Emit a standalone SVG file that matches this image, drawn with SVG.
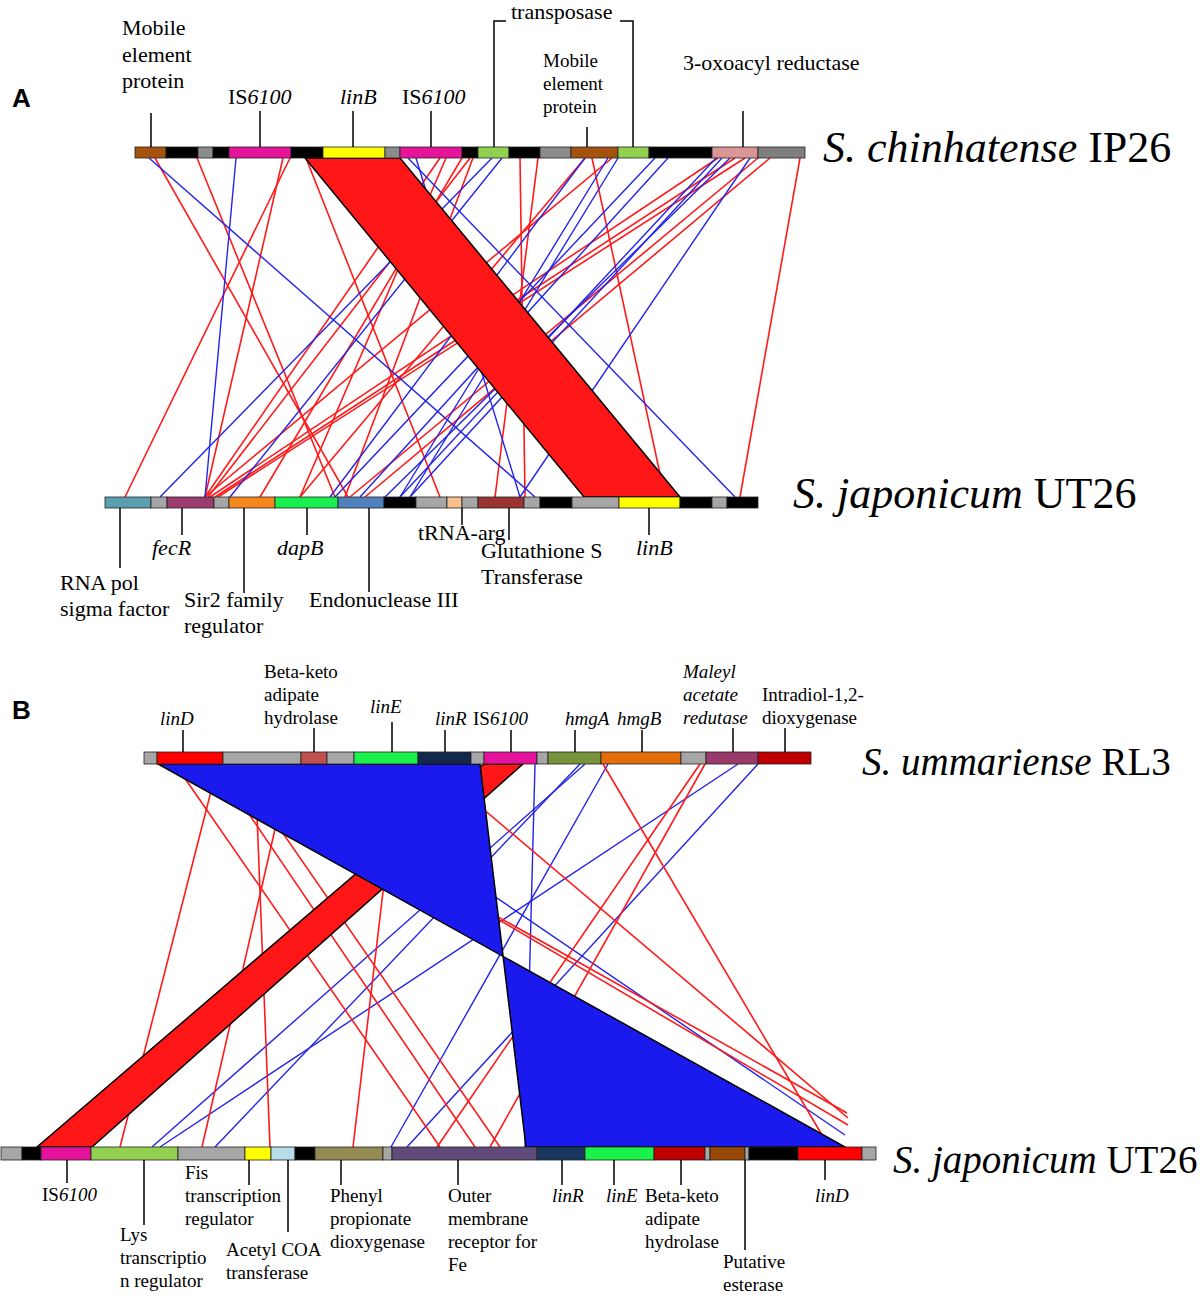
<svg xmlns="http://www.w3.org/2000/svg" width="1200" height="1296" viewBox="0 0 1200 1296">
<style>
.r{stroke:#ff1a1a;fill:none;stroke-width:1.6}
.b{stroke:#2424e8;fill:none;stroke-width:1.4}
.seg rect{stroke:#222;stroke-width:0.8}
.tk{stroke:#000;stroke-width:1.5;fill:none}
text{font-family:"Liberation Serif","Times New Roman",serif;fill:#000}
.a{font-size:22px}
.s{font-size:19px}
.i{font-style:italic}
.sp1{font-size:44px}
.sp2{font-size:39px}
.lab{font-family:"Liberation Sans",Arial,sans-serif;font-weight:bold;font-size:26px}
</style>
<rect width="1200" height="1296" fill="#fff"/>

<g id="connectors">
<g id="linesA">
<line class="r" x1="155" y1="158" x2="348" y2="497" stroke-width="2"/>
<line class="r" x1="197" y1="158" x2="335" y2="497" stroke-width="2"/>
<line class="r" x1="290" y1="158" x2="125" y2="497" stroke-width="2"/>
<line class="r" x1="283" y1="158" x2="205" y2="497"/>
<line class="r" x1="306" y1="158" x2="440" y2="497" stroke-width="2"/>
<line class="r" x1="440" y1="158" x2="205" y2="497" stroke-width="1"/>
<line class="r" x1="446" y1="158" x2="300" y2="497" stroke-width="2"/>
<line class="r" x1="462" y1="158" x2="260" y2="497" stroke-width="2"/>
<line class="r" x1="470" y1="158" x2="208" y2="497" stroke-width="1"/>
<line class="r" x1="473" y1="158" x2="345" y2="497"/>
<line class="r" x1="520" y1="158" x2="525" y2="497" stroke-width="2"/>
<line class="r" x1="538" y1="158" x2="495" y2="497"/>
<line class="r" x1="585" y1="158" x2="300" y2="497" stroke-width="2"/>
<line class="r" x1="592" y1="158" x2="665" y2="497" stroke-width="2"/>
<line class="r" x1="612" y1="158" x2="205" y2="497" stroke-width="1"/>
<line class="r" x1="718" y1="158" x2="210" y2="497" stroke-width="1"/>
<line class="r" x1="735" y1="158" x2="215" y2="497" stroke-width="1"/>
<line class="r" x1="745" y1="158" x2="218" y2="497" stroke-width="1"/>
<line class="r" x1="758" y1="158" x2="350" y2="497" stroke-width="1"/>
<line class="r" x1="770" y1="158" x2="365" y2="497" stroke-width="1"/>
<line class="r" x1="800" y1="158" x2="740" y2="497" stroke-width="3"/>
<line class="b" x1="149" y1="158" x2="535" y2="497"/>
<line class="b" x1="236" y1="158" x2="205" y2="497"/>
<line class="b" x1="408" y1="158" x2="735" y2="497"/>
<line class="b" x1="416" y1="158" x2="520" y2="497"/>
<line class="b" x1="492" y1="158" x2="160" y2="497"/>
<line class="b" x1="502" y1="158" x2="230" y2="497"/>
<line class="b" x1="585" y1="158" x2="330" y2="497"/>
<line class="b" x1="608" y1="158" x2="400" y2="497" stroke-width="2"/>
<line class="b" x1="618" y1="158" x2="410" y2="497"/>
<line class="b" x1="655" y1="158" x2="335" y2="497"/>
<line class="b" x1="668" y1="158" x2="360" y2="497"/>
<line class="b" x1="716" y1="158" x2="400" y2="497" stroke-width="2.5"/>
<line class="b" x1="722" y1="158" x2="410" y2="497"/>
<line class="b" x1="730" y1="158" x2="385" y2="497" stroke-width="1"/>
<line class="b" x1="750" y1="158" x2="520" y2="497"/>
</g>
<polygon id="bandA" points="305,158 400,158 680,497 584,497" fill="#ff1616" stroke="#000" stroke-width="1.5"/>

<g id="linesB">
<line class="b" x1="535" y1="764" x2="525" y2="1147"/>
<line class="b" x1="580" y1="764" x2="215" y2="1147"/>
<line class="b" x1="585" y1="764" x2="152" y2="1147"/>
<line class="b" x1="608" y1="764" x2="391" y2="1147"/>
<line class="b" x1="738" y1="764" x2="160" y2="1147" stroke-width="1"/>
<line class="b" x1="758" y1="764" x2="407" y2="1147"/>
<line class="b" x1="300" y1="764" x2="845" y2="1135" stroke-width="1"/>
<line class="r" x1="255" y1="764" x2="270" y2="1147" stroke-width="2.5"/>
<line class="r" x1="218" y1="764" x2="120" y2="1147" stroke-width="2"/>
<line class="r" x1="175" y1="764" x2="440" y2="1147"/>
<line class="r" x1="215" y1="764" x2="475" y2="1147"/>
<line class="r" x1="235" y1="764" x2="500" y2="1147" stroke-width="1"/>
<line class="r" x1="290" y1="764" x2="202" y2="1147"/>
<line class="r" x1="398" y1="764" x2="353" y2="1147" stroke-width="2"/>
<line class="r" x1="226" y1="764" x2="847" y2="1113" stroke-width="1"/>
<line class="r" x1="234" y1="764" x2="848" y2="1125" stroke-width="1"/>
<line class="r" x1="430" y1="764" x2="848" y2="1118" stroke-width="1"/>
<line class="r" x1="603" y1="764" x2="822" y2="1135" stroke-width="2"/>
<line class="r" x1="705" y1="764" x2="490" y2="1147" stroke-width="2"/>
<line class="r" x1="700" y1="764" x2="437" y2="1147"/>
</g>
<polygon id="bandBred" points="484,764 523,764 92,1147 37,1147" fill="#ff1616" stroke="#000" stroke-width="1.5"/>
<polygon id="bandBblue" points="158,764 480,764 526,1147 845,1147" fill="#1a1aee" stroke="#000" stroke-width="1.5"/>
</g>

<g id="barA1" class="seg">
<rect x="135" y="147" width="31" height="11" fill="#a5520f"/>
<rect x="166" y="147" width="32" height="11" fill="#000"/>
<rect x="198" y="147" width="15" height="11" fill="#8c8c8c"/>
<rect x="213" y="147" width="16" height="11" fill="#000"/>
<rect x="229" y="147" width="62" height="11" fill="#e6149b"/>
<rect x="291" y="147" width="32" height="11" fill="#000"/>
<rect x="323" y="147" width="62" height="11" fill="#ffff00"/>
<rect x="385" y="147" width="15" height="11" fill="#8c8c8c"/>
<rect x="400" y="147" width="62" height="11" fill="#e6149b"/>
<rect x="462" y="147" width="16" height="11" fill="#000"/>
<rect x="478" y="147" width="31" height="11" fill="#92d050"/>
<rect x="509" y="147" width="31" height="11" fill="#000"/>
<rect x="540" y="147" width="31" height="11" fill="#8c8c8c"/>
<rect x="571" y="147" width="47" height="11" fill="#a5520f"/>
<rect x="618" y="147" width="31" height="11" fill="#92d050"/>
<rect x="649" y="147" width="63" height="11" fill="#000"/>
<rect x="712" y="147" width="46" height="11" fill="#d99694"/>
<rect x="758" y="147" width="47" height="11" fill="#7f7f7f"/>
</g>

<g id="barA2" class="seg">
<rect x="105" y="497" width="46" height="11" fill="#5b9eae"/>
<rect x="151" y="497" width="16" height="11" fill="#a6a6a6"/>
<rect x="167" y="497" width="47" height="11" fill="#9b3b6e"/>
<rect x="214" y="497" width="15" height="11" fill="#a6a6a6"/>
<rect x="229" y="497" width="46" height="11" fill="#f7861d"/>
<rect x="275" y="497" width="63" height="11" fill="#19f050"/>
<rect x="338" y="497" width="46" height="11" fill="#4f81bd"/>
<rect x="384" y="497" width="32" height="11" fill="#000"/>
<rect x="416" y="497" width="31" height="11" fill="#a6a6a6"/>
<rect x="447" y="497" width="15" height="11" fill="#fac090"/>
<rect x="462" y="497" width="16" height="11" fill="#a6a6a6"/>
<rect x="478" y="497" width="46" height="11" fill="#9b3333"/>
<rect x="524" y="497" width="16" height="11" fill="#a6a6a6"/>
<rect x="540" y="497" width="32" height="11" fill="#000"/>
<rect x="572" y="497" width="47" height="11" fill="#a6a6a6"/>
<rect x="619" y="497" width="61" height="11" fill="#ffff00"/>
<rect x="680" y="497" width="32" height="11" fill="#000"/>
<rect x="712" y="497" width="15" height="11" fill="#a6a6a6"/>
<rect x="727" y="497" width="31" height="11" fill="#000"/>
</g>

<g id="barB1" class="seg">
<rect x="144" y="752" width="13" height="12" fill="#a6a6a6"/>
<rect x="157" y="752" width="66" height="12" fill="#ff0000"/>
<rect x="223" y="752" width="78" height="12" fill="#a6a6a6"/>
<rect x="301" y="752" width="26" height="12" fill="#c0504d"/>
<rect x="327" y="752" width="27" height="12" fill="#a6a6a6"/>
<rect x="354" y="752" width="64" height="12" fill="#1af14b"/>
<rect x="418" y="752" width="53" height="12" fill="#13294b"/>
<rect x="471" y="752" width="13" height="12" fill="#a6a6a6"/>
<rect x="484" y="752" width="53" height="12" fill="#e3119b"/>
<rect x="537" y="752" width="11" height="12" fill="#a6a6a6"/>
<rect x="548" y="752" width="53" height="12" fill="#77933c"/>
<rect x="601" y="752" width="80" height="12" fill="#e46c0a"/>
<rect x="681" y="752" width="25" height="12" fill="#a6a6a6"/>
<rect x="706" y="752" width="52" height="12" fill="#9a3a6a"/>
<rect x="758" y="752" width="53" height="12" fill="#c00000"/>
</g>

<g id="barB2" class="seg">
<rect x="1" y="1147" width="21" height="13" fill="#a6a6a6"/>
<rect x="22" y="1147" width="19" height="13" fill="#000"/>
<rect x="41" y="1147" width="50" height="13" fill="#e3119b"/>
<rect x="91" y="1147" width="87" height="13" fill="#92d050"/>
<rect x="178" y="1147" width="67" height="13" fill="#a6a6a6"/>
<rect x="245" y="1147" width="26" height="13" fill="#ffff00"/>
<rect x="271" y="1147" width="24" height="13" fill="#b7dde8"/>
<rect x="295" y="1147" width="20" height="13" fill="#000"/>
<rect x="315" y="1147" width="68" height="13" fill="#948a54"/>
<rect x="383" y="1147" width="9" height="13" fill="#a6a6a6"/>
<rect x="392" y="1147" width="145" height="13" fill="#604a7b"/>
<rect x="537" y="1147" width="48" height="13" fill="#17375e"/>
<rect x="585" y="1147" width="69" height="13" fill="#1af14b"/>
<rect x="654" y="1147" width="51" height="13" fill="#c00000"/>
<rect x="705" y="1147" width="5" height="13" fill="#a6a6a6"/>
<rect x="710" y="1147" width="35" height="13" fill="#984807"/>
<rect x="745" y="1147" width="4" height="13" fill="#a6a6a6"/>
<rect x="749" y="1147" width="49" height="13" fill="#000"/>
<rect x="798" y="1147" width="64" height="13" fill="#ff0000"/>
<rect x="862" y="1147" width="14" height="13" fill="#a6a6a6"/>
</g>

<g id="ticks">
<path class="tk" d="M151 113V147M260 111V147M353 111V147M431 111V147M587 127V147M743 111V147"/>
<path class="tk" d="M506 21H494V147M620 21H633V147"/>
<path class="tk" d="M120 508V568M182 508V535M244 508V593M307 508V535M369 508V592M462 508V525M509 508V540M649 508V535"/>
<path class="tk" d="M183 730V752M314 728V752M392 722V752M445 730V752M511 730V752M575 730V752M642 730V752M733 728V752M785 728V752"/>
<path class="tk" d="M67 1160V1183M144 1160V1225M249 1160V1185M288 1160V1232M341 1160V1185M458 1160V1185M562 1160V1185M614 1160V1185M681 1160V1185M745 1160V1250M825 1160V1180"/>
</g>

<g id="labelsA">
<text class="lab" x="12" y="107">A</text>
<text class="a" x="122" y="35">Mobile</text>
<text class="a" x="122" y="62">element</text>
<text class="a" x="122" y="88">protein</text>
<text class="a" x="228" y="104">IS<tspan class="i">6100</tspan></text>
<text class="a i" x="340" y="104">linB</text>
<text class="a" x="402" y="104">IS<tspan class="i">6100</tspan></text>
<text class="a" x="511" y="19">transposase</text>
<text class="s" x="543" y="67">Mobile</text>
<text class="s" x="543" y="90">element</text>
<text class="s" x="543" y="113">protein</text>
<text class="a" x="683" y="70">3-oxoacyl reductase</text>
<text class="sp1" x="823" y="162"><tspan class="i">S. chinhatense</tspan> IP26</text>
<text class="sp1" x="793" y="508"><tspan class="i">S. japonicum</tspan> UT26</text>
<text class="a" x="60" y="590">RNA pol</text>
<text class="a" x="60" y="616">sigma factor</text>
<text class="a i" x="152" y="555">fecR</text>
<text class="a" x="184" y="607">Sir2 family</text>
<text class="a" x="184" y="633">regulator</text>
<text class="a i" x="277" y="555">dapB</text>
<text class="a" x="309" y="607">Endonuclease III</text>
<text class="a" x="418" y="540">tRNA-arg</text>
<text class="a" x="481" y="558">Glutathione S</text>
<text class="a" x="481" y="584">Transferase</text>
<text class="a i" x="636" y="555">linB</text>
</g>

<g id="labelsB">
<text class="lab" x="12" y="719">B</text>
<text class="s i" x="160" y="725">linD</text>
<text class="s" x="264" y="678">Beta-keto</text>
<text class="s" x="264" y="701">adipate</text>
<text class="s" x="264" y="724">hydrolase</text>
<text class="s i" x="370" y="713">linE</text>
<text class="s i" x="435" y="725">linR</text>
<text class="s" x="473" y="725">IS<tspan class="i">6100</tspan></text>
<text class="s i" x="565" y="725">hmgA</text>
<text class="s i" x="617" y="725">hmgB</text>
<text class="s i" x="683" y="678">Maleyl</text>
<text class="s i" x="683" y="701">acetate</text>
<text class="s i" x="683" y="724">redutase</text>
<text class="s" x="762" y="701">Intradiol-1,2-</text>
<text class="s" x="762" y="724">dioxygenase</text>
<text class="sp2" x="862" y="775"><tspan class="i">S. ummariense</tspan> RL3</text>
<text class="sp2" x="893" y="1173"><tspan class="i">S. japonicum</tspan> UT26</text>
<text class="s" x="42" y="1201">IS<tspan class="i">6100</tspan></text>
<text class="s" x="120" y="1241">Lys</text>
<text class="s" x="120" y="1264">transcriptio</text>
<text class="s" x="120" y="1287">n regulator</text>
<text class="s" x="185" y="1179">Fis</text>
<text class="s" x="185" y="1202">transcription</text>
<text class="s" x="185" y="1225">regulator</text>
<text class="s" x="226" y="1256">Acetyl COA</text>
<text class="s" x="226" y="1279">transferase</text>
<text class="s" x="330" y="1202">Phenyl</text>
<text class="s" x="330" y="1225">propionate</text>
<text class="s" x="330" y="1248">dioxygenase</text>
<text class="s" x="448" y="1202">Outer</text>
<text class="s" x="448" y="1225">membrane</text>
<text class="s" x="448" y="1248">receptor for</text>
<text class="s" x="448" y="1271">Fe</text>
<text class="s i" x="552" y="1202">linR</text>
<text class="s i" x="606" y="1202">linE</text>
<text class="s" x="645" y="1202">Beta-keto</text>
<text class="s" x="645" y="1225">adipate</text>
<text class="s" x="645" y="1248">hydrolase</text>
<text class="s" x="723" y="1268">Putative</text>
<text class="s" x="723" y="1291">esterase</text>
<text class="s i" x="815" y="1202">linD</text>
</g>
</svg>
